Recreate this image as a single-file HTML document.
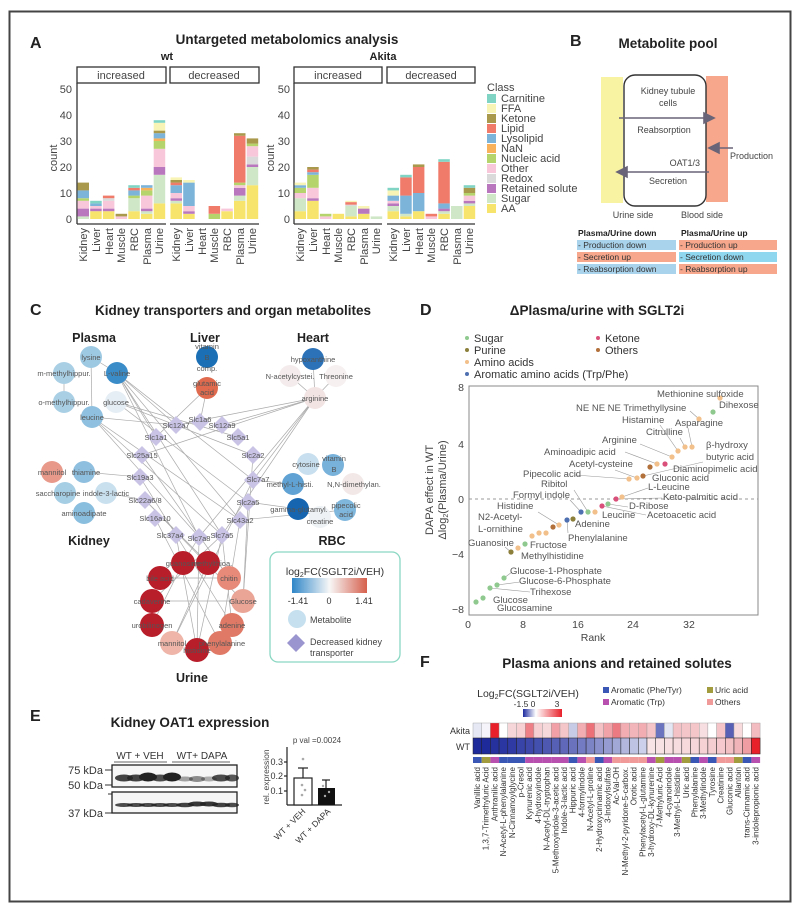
<!DOCTYPE html>
<html><head><meta charset="utf-8"><style>
html,body{margin:0;padding:0;background:#fff}
svg{display:block;font-family:"Liberation Sans",Arial,sans-serif}
.aa{fill:#f7e46c}.su{fill:#cfe7c6}.re{fill:#b977bd}.rd{fill:#dadada}.ot{fill:#f8c8da}.nu{fill:#b5d56c}.na{fill:#f8b25c}.ly{fill:#7bb3d9}.li{fill:#f07b6b}.ke{fill:#a9994d}.ff{fill:#f8f4b5}.ca{fill:#80d4c4}
.t{font-size:11px;fill:#444}
.b{font-weight:bold;fill:#222}
.n{font-size:7.5px;fill:#555;text-anchor:middle}
.d{font-size:9.5px;fill:#555}
.e{stroke:#aaa;stroke-width:0.7}
.h{font-size:8px;fill:#333}
</style></head><body>
<svg width="800" height="913" viewBox="0 0 800 913" xmlns="http://www.w3.org/2000/svg">
<rect x="9.5" y="11.5" width="781" height="890" fill="#fff" stroke="#444" stroke-width="2"/>

<!-- ================= A ================= -->
<text x="30" y="48" font-size="16" class="b">A</text>
<text x="287" y="44" font-size="13.5" class="b" text-anchor="middle">Untargeted metabolomics analysis</text>
<text x="167" y="60" font-size="11" class="b" text-anchor="middle">wt</text>
<text x="383" y="60" font-size="11" class="b" text-anchor="middle">Akita</text>
<g fill="#fff" stroke="#333" stroke-width="1.3">
<rect x="77" y="67" width="89" height="16"/><rect x="170" y="67" width="89" height="16"/>
<rect x="294" y="67" width="88" height="16"/><rect x="387" y="67" width="88" height="16"/>
</g>
<g class="t" font-size="11" text-anchor="middle">
<text x="121" y="79">increased</text><text x="214" y="79">decreased</text>
<text x="338" y="79">increased</text><text x="431" y="79">decreased</text>
</g>
<g stroke="#333" stroke-width="1.3">
<line x1="77" y1="83" x2="77" y2="224"/><line x1="77" y1="224" x2="166" y2="224"/><line x1="170" y1="224" x2="259" y2="224"/>
<line x1="294" y1="83" x2="294" y2="224"/><line x1="294" y1="224" x2="382" y2="224"/><line x1="387" y1="224" x2="475" y2="224"/>
</g>
<g class="t" font-size="11" text-anchor="end">
<text x="72" y="223">0</text><text x="72" y="197">10</text><text x="72" y="171">20</text><text x="72" y="145">30</text><text x="72" y="119">40</text><text x="72" y="93">50</text>
<text x="290" y="223">0</text><text x="290" y="197">10</text><text x="290" y="171">20</text><text x="290" y="145">30</text><text x="290" y="119">40</text><text x="290" y="93">50</text>
</g>
<text transform="translate(57,158) rotate(-90)" class="t" font-size="11" text-anchor="middle">count</text>
<text transform="translate(274,158) rotate(-90)" class="t" font-size="11" text-anchor="middle">count</text>

<!-- wt increased -->
<g transform="translate(77.5,219) scale(1,-2.6)"><rect class="su" width="11.5" y="0" height="1"/><rect class="re" width="11.5" y="1" height="3"/><rect class="ot" width="11.5" y="4" height="3"/><rect class="nu" width="11.5" y="7" height="1"/><rect class="ly" width="11.5" y="8" height="3"/><rect class="ke" width="11.5" y="11" height="3"/></g>
<g transform="translate(90.2,219) scale(1,-2.6)"><rect class="aa" width="11.5" height="3"/><rect class="re" width="11.5" y="3" height="1"/><rect class="ot" width="11.5" y="4" height="1"/><rect class="ly" width="11.5" y="5" height="1"/><rect class="ca" width="11.5" y="6" height="1"/></g>
<g transform="translate(102.9,219) scale(1,-2.6)"><rect class="aa" width="11.5" height="3"/><rect class="re" width="11.5" y="3" height="1"/><rect class="ot" width="11.5" y="4" height="3"/><rect class="rd" width="11.5" y="7" height="1"/><rect class="li" width="11.5" y="8" height="1"/></g>
<g transform="translate(115.6,219) scale(1,-2.6)"><rect class="ot" width="11.5" height="1"/><rect class="ke" width="11.5" y="1" height="1"/></g>
<g transform="translate(128.3,219) scale(1,-2.6)"><rect class="aa" width="11.5" height="3"/><rect class="su" width="11.5" y="3" height="5"/><rect class="nu" width="11.5" y="8" height="1"/><rect class="ly" width="11.5" y="9" height="2"/><rect class="li" width="11.5" y="11" height="1"/><rect class="ca" width="11.5" y="12" height="1"/></g>
<g transform="translate(141,219) scale(1,-2.6)"><rect class="aa" width="11.5" height="2"/><rect class="su" width="11.5" y="2" height="1"/><rect class="re" width="11.5" y="3" height="1"/><rect class="ot" width="11.5" y="4" height="5"/><rect class="nu" width="11.5" y="9" height="2"/><rect class="na" width="11.5" y="11" height="1"/><rect class="ly" width="11.5" y="12" height="1"/></g>
<g transform="translate(153.7,219) scale(1,-2.6)"><rect class="aa" width="11.5" height="6"/><rect class="su" width="11.5" y="6" height="11"/><rect class="re" width="11.5" y="17" height="3"/><rect class="ot" width="11.5" y="20" height="7"/><rect class="nu" width="11.5" y="27" height="3"/><rect class="na" width="11.5" y="30" height="1"/><rect class="ly" width="11.5" y="31" height="2"/><rect class="ke" width="11.5" y="33" height="1"/><rect class="ff" width="11.5" y="34" height="3"/><rect class="ca" width="11.5" y="37" height="1"/></g>
<!-- wt decreased -->
<g transform="translate(170.5,219) scale(1,-2.6)"><rect class="aa" width="11.5" height="6"/><rect class="su" width="11.5" y="6" height="1"/><rect class="re" width="11.5" y="7" height="1"/><rect class="ot" width="11.5" y="8" height="2"/><rect class="ly" width="11.5" y="10" height="3"/><rect class="li" width="11.5" y="13" height="1"/><rect class="ke" width="11.5" y="14" height="1"/><rect class="ff" width="11.5" y="15" height="1"/></g>
<g transform="translate(183.2,219) scale(1,-2.6)"><rect class="aa" width="11.5" height="2"/><rect class="re" width="11.5" y="2" height="1"/><rect class="ot" width="11.5" y="3" height="2"/><rect class="ly" width="11.5" y="5" height="9"/><rect class="ff" width="11.5" y="14" height="1"/></g>
<g transform="translate(208.6,219) scale(1,-2.6)"><rect class="nu" width="11.5" height="2"/><rect class="li" width="11.5" y="2" height="3"/></g>
<g transform="translate(221.3,219) scale(1,-2.6)"><rect class="aa" width="11.5" height="3"/><rect class="ot" width="11.5" y="3" height="1"/></g>
<g transform="translate(234,219) scale(1,-2.6)"><rect class="aa" width="11.5" height="7"/><rect class="su" width="11.5" y="7" height="2"/><rect class="re" width="11.5" y="9" height="3"/><rect class="ot" width="11.5" y="12" height="1"/><rect class="nu" width="11.5" y="13" height="1"/><rect class="li" width="11.5" y="14" height="18"/><rect class="ke" width="11.5" y="32" height="1"/></g>
<g transform="translate(246.7,219) scale(1,-2.6)"><rect class="aa" width="11.5" height="13"/><rect class="su" width="11.5" y="13" height="7"/><rect class="re" width="11.5" y="20" height="1"/><rect class="rd" width="11.5" y="21" height="3"/><rect class="ot" width="11.5" y="24" height="4"/><rect class="nu" width="11.5" y="28" height="1"/><rect class="ke" width="11.5" y="29" height="2"/></g>
<!-- Akita increased -->
<g transform="translate(294.5,219) scale(1,-2.6)"><rect class="aa" width="11.5" height="3"/><rect class="su" width="11.5" y="3" height="5"/><rect class="ot" width="11.5" y="8" height="2"/><rect class="nu" width="11.5" y="10" height="2"/><rect class="ly" width="11.5" y="12" height="1"/><rect class="ff" width="11.5" y="13" height="1"/></g>
<g transform="translate(307.2,219) scale(1,-2.6)"><rect class="aa" width="11.5" height="7"/><rect class="re" width="11.5" y="7" height="1"/><rect class="ot" width="11.5" y="8" height="4"/><rect class="nu" width="11.5" y="12" height="5"/><rect class="ly" width="11.5" y="17" height="1"/><rect class="li" width="11.5" y="18" height="1"/><rect class="ke" width="11.5" y="19" height="1"/></g>
<g transform="translate(319.9,219) scale(1,-2.6)"><rect class="ot" width="11.5" height="1"/><rect class="nu" width="11.5" y="1" height="1"/></g>
<g transform="translate(332.6,219) scale(1,-2.6)"><rect class="aa" width="11.5" height="2"/></g>
<g transform="translate(345.3,219) scale(1,-2.6)"><rect class="aa" width="11.5" height="1"/><rect class="su" width="11.5" y="1" height="4"/><rect class="rd" width="11.5" y="5" height="0.5"/><rect class="li" width="11.5" y="5.5" height="1"/><rect class="ff" width="11.5" y="6.5" height="0.5"/></g>
<g transform="translate(358,219) scale(1,-2.6)"><rect class="aa" width="11.5" height="2"/><rect class="re" width="11.5" y="2" height="2"/><rect class="ff" width="11.5" y="4" height="1"/></g>
<g transform="translate(370.7,219) scale(1,-2.6)"><rect class="su" width="11.5" height="1"/></g>
<!-- Akita decreased -->
<g transform="translate(387.5,219) scale(1,-2.6)"><rect class="aa" width="11.5" height="3"/><rect class="su" width="11.5" y="3" height="2"/><rect class="re" width="11.5" y="5" height="1"/><rect class="ot" width="11.5" y="6" height="1"/><rect class="ly" width="11.5" y="7" height="2"/><rect class="ff" width="11.5" y="9" height="2"/><rect class="ca" width="11.5" y="11" height="1"/></g>
<g transform="translate(400.2,219) scale(1,-2.6)"><rect class="aa" width="11.5" height="1"/><rect class="su" width="11.5" y="1" height="1"/><rect class="ly" width="11.5" y="2" height="7"/><rect class="li" width="11.5" y="9" height="7"/><rect class="ca" width="11.5" y="16" height="1"/></g>
<g transform="translate(412.9,219) scale(1,-2.6)"><rect class="aa" width="11.5" height="3"/><rect class="ly" width="11.5" y="3" height="7"/><rect class="li" width="11.5" y="10" height="10"/><rect class="ke" width="11.5" y="20" height="1"/></g>
<g transform="translate(425.6,219) scale(1,-2.6)"><rect class="ot" width="11.5" height="1"/><rect class="li" width="11.5" y="1" height="1"/></g>
<g transform="translate(438.3,219) scale(1,-2.6)"><rect class="aa" width="11.5" height="2"/><rect class="su" width="11.5" y="2" height="1"/><rect class="re" width="11.5" y="3" height="1"/><rect class="ly" width="11.5" y="4" height="2"/><rect class="li" width="11.5" y="6" height="16"/><rect class="ca" width="11.5" y="22" height="1"/></g>
<g transform="translate(451,219) scale(1,-2.6)"><rect class="su" width="11.5" height="5"/></g>
<g transform="translate(463.7,219) scale(1,-2.6)"><rect class="aa" width="11.5" height="5"/><rect class="su" width="11.5" y="5" height="1"/><rect class="re" width="11.5" y="6" height="1"/><rect class="ot" width="11.5" y="7" height="2"/><rect class="nu" width="11.5" y="9" height="1"/><rect class="ke" width="11.5" y="10" height="2"/><rect class="ca" width="11.5" y="12" height="1"/></g>

<g class="t" font-size="11" text-anchor="end">
<text transform="translate(87,228) rotate(-90)">Kidney</text><text transform="translate(100,228) rotate(-90)">Liver</text><text transform="translate(113,228) rotate(-90)">Heart</text><text transform="translate(125,228) rotate(-90)">Muscle</text><text transform="translate(138,228) rotate(-90)">RBC</text><text transform="translate(151,228) rotate(-90)">Plasma</text><text transform="translate(163,228) rotate(-90)">Urine</text>
<text transform="translate(180,228) rotate(-90)">Kidney</text><text transform="translate(193,228) rotate(-90)">Liver</text><text transform="translate(206,228) rotate(-90)">Heart</text><text transform="translate(218,228) rotate(-90)">Muscle</text><text transform="translate(231,228) rotate(-90)">RBC</text><text transform="translate(244,228) rotate(-90)">Plasma</text><text transform="translate(256,228) rotate(-90)">Urine</text>
<text transform="translate(304,228) rotate(-90)">Kidney</text><text transform="translate(317,228) rotate(-90)">Liver</text><text transform="translate(330,228) rotate(-90)">Heart</text><text transform="translate(342,228) rotate(-90)">Muscle</text><text transform="translate(355,228) rotate(-90)">RBC</text><text transform="translate(368,228) rotate(-90)">Plasma</text><text transform="translate(380,228) rotate(-90)">Urine</text>
<text transform="translate(397,228) rotate(-90)">Kidney</text><text transform="translate(410,228) rotate(-90)">Liver</text><text transform="translate(423,228) rotate(-90)">Heart</text><text transform="translate(435,228) rotate(-90)">Muscle</text><text transform="translate(448,228) rotate(-90)">RBC</text><text transform="translate(461,228) rotate(-90)">Plasma</text><text transform="translate(473,228) rotate(-90)">Urine</text>
</g>
<!-- legend A -->
<text x="487" y="91" class="t" font-size="10.5">Class</text>
<g>
<rect class="ca" x="487" y="94" width="9" height="9"/><rect class="ff" x="487" y="104" width="9" height="9"/><rect class="ke" x="487" y="114" width="9" height="9"/><rect class="li" x="487" y="124" width="9" height="9"/><rect class="ly" x="487" y="134" width="9" height="9"/><rect class="na" x="487" y="144" width="9" height="9"/><rect class="nu" x="487" y="154" width="9" height="9"/><rect class="ot" x="487" y="164" width="9" height="9"/><rect class="rd" x="487" y="174" width="9" height="9"/><rect class="re" x="487" y="184" width="9" height="9"/><rect class="su" x="487" y="194" width="9" height="9"/><rect class="aa" x="487" y="204" width="9" height="9"/>
</g>
<g class="t" font-size="10.5">
<text x="501" y="102">Carnitine</text><text x="501" y="112">FFA</text><text x="501" y="122">Ketone</text><text x="501" y="132">Lipid</text><text x="501" y="142">Lysolipid</text><text x="501" y="152">NaN</text><text x="501" y="162">Nucleic acid</text><text x="501" y="172">Other</text><text x="501" y="182">Redox</text><text x="501" y="192">Retained solute</text><text x="501" y="202">Sugar</text><text x="501" y="212">AA</text>
</g>

<!-- ================= B ================= -->
<text x="570" y="46" font-size="16" class="b">B</text>
<text x="668" y="48" font-size="13.5" class="b" text-anchor="middle">Metabolite pool</text>
<rect x="601" y="77" width="22" height="126" fill="#f7f3a3"/>
<rect x="706" y="76" width="22" height="126" fill="#f6a78c"/>
<rect x="624" y="75" width="82" height="131" rx="11" fill="none" stroke="#333" stroke-width="1.4"/>
<g font-size="9" fill="#444" text-anchor="middle">
<text x="668" y="94">Kidney tubule</text><text x="668" y="106">cells</text>
<text x="664" y="133">Reabsorption</text><text x="668" y="184">Secretion</text>
<text x="633" y="218">Urine side</text><text x="702" y="218">Blood side</text>
</g>
<text x="700" y="166" font-size="9" fill="#444" text-anchor="end">OAT1/3</text>
<text x="730" y="159" font-size="9" fill="#444">Production</text>
<g stroke="#6a6478" stroke-width="1.6" fill="#6a6478">
<line x1="619" y1="118" x2="707" y2="118"/><polygon points="714,118 704,113 704,123"/>
<line x1="733" y1="148" x2="716" y2="148"/><polygon points="709,148 719,143 719,153"/>
<line x1="709" y1="172" x2="624" y2="172"/><polygon points="617,172 627,167 627,177"/>
</g>
<g font-size="8.5" fill="#222" font-weight="bold"><text x="578" y="236">Plasma/Urine down</text><text x="681" y="236">Plasma/Urine up</text></g>
<rect x="577" y="240" width="99" height="10" fill="#a9d3ec"/><rect x="577" y="252" width="99" height="10" fill="#f6a78c"/><rect x="577" y="264" width="99" height="10" fill="#a9d3ec"/>
<rect x="679" y="240" width="98" height="10" fill="#f6a78c"/><rect x="679" y="252" width="98" height="10" fill="#8fd6ef"/><rect x="679" y="264" width="98" height="10" fill="#f6a78c"/>
<g font-size="8.5" fill="#333"><text x="578" y="248">- Production down</text><text x="578" y="260">- Secretion up</text><text x="578" y="272">- Reabsorption down</text><text x="680" y="248">- Production up</text><text x="680" y="260">- Secretion down</text><text x="680" y="272">- Reabsorption up</text></g>

<!-- ================= C ================= -->
<text x="30" y="315" font-size="16" class="b">C</text>
<text x="233" y="315" font-size="13.5" class="b" text-anchor="middle">Kidney transporters and organ metabolites</text>
<g font-size="12.5" class="b" text-anchor="middle">
<text x="94" y="342">Plasma</text><text x="205" y="342">Liver</text><text x="313" y="342">Heart</text>
<text x="89" y="545">Kidney</text><text x="332" y="545">RBC</text><text x="192" y="682">Urine</text>
</g>
<g class="e">
<line x1="91" y1="357" x2="92" y2="417"/><line x1="64" y1="373" x2="64" y2="402"/><line x1="117" y1="373" x2="156" y2="437"/><line x1="117" y1="373" x2="176" y2="425"/><line x1="117" y1="373" x2="222" y2="535"/><line x1="117" y1="373" x2="199" y2="537"/><line x1="117" y1="373" x2="240" y2="520"/><line x1="117" y1="373" x2="253" y2="480"/><line x1="91" y1="357" x2="117" y2="373"/>
<line x1="92" y1="417" x2="222" y2="535"/><line x1="92" y1="417" x2="199" y2="537"/><line x1="92" y1="417" x2="240" y2="520"/><line x1="92" y1="417" x2="176" y2="425"/>
<line x1="116" y1="402" x2="238" y2="437"/><line x1="116" y1="402" x2="253" y2="455"/><line x1="116" y1="402" x2="248" y2="502"/>
<line x1="207" y1="388" x2="200" y2="422"/><line x1="207" y1="388" x2="156" y2="437"/>
<line x1="315" y1="398" x2="253" y2="480"/><line x1="315" y1="398" x2="199" y2="537"/><line x1="315" y1="398" x2="142" y2="455"/><line x1="315" y1="398" x2="222" y2="425"/><line x1="315" y1="398" x2="176" y2="425"/><line x1="315" y1="398" x2="222" y2="535"/><line x1="313" y1="359" x2="315" y2="398"/><line x1="290" y1="376" x2="315" y2="398"/><line x1="336" y1="376" x2="315" y2="398"/>
<line x1="84" y1="472" x2="140" y2="477"/><line x1="106" y1="493" x2="145" y2="500"/>
<line x1="293" y1="484" x2="253" y2="480"/><line x1="298" y1="509" x2="248" y2="502"/><line x1="345" y1="510" x2="240" y2="520"/>
<line x1="145" y1="500" x2="208" y2="563"/><line x1="145" y1="500" x2="243" y2="601"/><line x1="142" y1="455" x2="229" y2="578"/><line x1="140" y1="477" x2="232" y2="625"/><line x1="155" y1="518" x2="220" y2="643"/><line x1="176" y1="535" x2="197" y2="650"/><line x1="199" y1="537" x2="197" y2="650"/><line x1="222" y1="535" x2="197" y2="650"/><line x1="222" y1="535" x2="152" y2="601"/><line x1="253" y1="455" x2="243" y2="601"/><line x1="248" y1="502" x2="243" y2="601"/><line x1="240" y1="520" x2="220" y2="643"/><line x1="253" y1="480" x2="172" y2="643"/><line x1="199" y1="537" x2="183" y2="563"/><line x1="222" y1="535" x2="232" y2="625"/>
<line x1="183" y1="563" x2="152" y2="625"/><line x1="208" y1="563" x2="172" y2="643"/><line x1="160" y1="578" x2="229" y2="578"/><line x1="152" y1="601" x2="243" y2="601"/>
</g>
<g>
<circle cx="91" cy="357" r="11" fill="#9ec9e2"/><circle cx="64" cy="373" r="11" fill="#a9cfe5"/><circle cx="117" cy="373" r="11" fill="#3a8cc8"/><circle cx="64" cy="402" r="11" fill="#a9cfe5"/><circle cx="116" cy="402" r="11" fill="#e6eef5"/><circle cx="92" cy="417" r="11" fill="#8fc0df"/>
<circle cx="207" cy="357" r="11" fill="#1a6fb5"/><circle cx="207" cy="388" r="11" fill="#e06a4d"/>
<circle cx="313" cy="359" r="11" fill="#2b72b8"/><circle cx="290" cy="376" r="11" fill="#f4ecec"/><circle cx="336" cy="376" r="11" fill="#f7f0f0"/><circle cx="315" cy="398" r="11" fill="#f3e4e4"/>
<circle cx="52" cy="472" r="11" fill="#e8998a"/><circle cx="84" cy="472" r="11" fill="#8fbfdf"/><circle cx="65" cy="493" r="11" fill="#a5cde4"/><circle cx="106" cy="493" r="11" fill="#c9e0ef"/><circle cx="84" cy="513" r="11" fill="#8abedf"/>
<circle cx="308" cy="464" r="11" fill="#c7dfee"/><circle cx="333" cy="465" r="11" fill="#78b1da"/><circle cx="293" cy="484" r="11" fill="#5fa2d3"/><circle cx="353" cy="484" r="11" fill="#f3e8e8"/><circle cx="320" cy="517" r="11" fill="#eef2f5"/><circle cx="345" cy="510" r="11" fill="#7fb6dc"/><circle cx="298" cy="509" r="11" fill="#1565b0"/>
<circle cx="183" cy="563" r="12" fill="#b81d2a"/><circle cx="208" cy="563" r="12" fill="#b81d2a"/><circle cx="160" cy="578" r="12" fill="#b81d2a"/><circle cx="229" cy="578" r="12" fill="#e78a7a"/><circle cx="152" cy="601" r="12" fill="#b81d2a"/><circle cx="243" cy="601" r="12" fill="#eba597"/><circle cx="152" cy="625" r="12" fill="#b81d2a"/><circle cx="232" cy="625" r="12" fill="#e07a66"/><circle cx="172" cy="643" r="12" fill="#eeb5a8"/><circle cx="220" cy="643" r="12" fill="#e07a66"/><circle cx="197" cy="650" r="12" fill="#b81d2a"/>
</g>
<g fill="#c9c4e6">
<polygon points="176,416 185,425 176,434 167,425"/><polygon points="200,413 209,422 200,431 191,422"/><polygon points="222,416 231,425 222,434 213,425"/><polygon points="156,428 165,437 156,446 147,437"/><polygon points="238,428 247,437 238,446 229,437"/><polygon points="142,446 151,455 142,464 133,455"/><polygon points="253,446 262,455 253,464 244,455"/><polygon points="140,468 149,477 140,486 131,477"/><polygon points="253,471 262,480 253,489 244,480"/><polygon points="145,491 154,500 145,509 136,500"/><polygon points="248,493 257,502 248,511 239,502"/><polygon points="155,509 164,518 155,527 146,518"/><polygon points="240,511 249,520 240,529 231,520"/><polygon points="176,526 185,535 176,544 167,535"/><polygon points="199,528 208,537 199,546 190,537"/><polygon points="222,526 231,535 222,544 213,535"/>
</g>
<g class="n">
<text x="91" y="360">lysine</text><text x="64" y="376">m-methylhippur.</text><text x="117" y="376">L-valine</text><text x="64" y="405">o-methylhippur.</text><text x="116" y="405">glucose</text><text x="92" y="420">leucine</text>
<text x="207" y="349">vitamin</text><text x="207" y="360">B</text><text x="207" y="371">comp.</text><text x="207" y="386">glutamic</text><text x="207" y="395">acid</text>
<text x="313" y="362">hypoxanthine</text><text x="290" y="379">N-acetylcystei.</text><text x="336" y="379">Threonine</text><text x="315" y="401">arginine</text>
<text x="176" y="428">Slc12a7</text><text x="200" y="422">Slc1a6</text><text x="222" y="428">Slc12a9</text><text x="156" y="440">Slc1a1</text><text x="238" y="440">Slc5a1</text><text x="142" y="458">Slc25a15</text><text x="253" y="458">Slc2a2</text><text x="140" y="480">Slc19a3</text><text x="258" y="482">Slc7a7</text><text x="145" y="503">Slc22a6/8</text><text x="248" y="505">Slc2a5</text><text x="155" y="521">Slc16a10</text><text x="240" y="523">Slc43a2</text><text x="170" y="538">Slc37a4</text><text x="199" y="541">Slc7a8</text><text x="222" y="538">Slc7a5</text>
<text x="52" y="475">mannitol</text><text x="86" y="475">thiamine</text><text x="58" y="496">saccharopine</text><text x="106" y="496">indole-3-lactic</text><text x="84" y="516">aminoadipate</text>
<text x="306" y="467">cytosine</text><text x="334" y="461">vitamin</text><text x="334" y="472">B</text><text x="290" y="487">methyl-L-histi.</text><text x="354" y="487">N,N-dimethylan.</text><text x="299" y="512">gamma-glutamyl.</text><text x="320" y="524">creatine</text><text x="346" y="508">pipecolic</text><text x="346" y="517">acid</text>
<text x="183" y="566">guanosine</text><text x="212" y="566">methylthioa.</text><text x="160" y="581">bile acid</text><text x="229" y="581">chitin</text><text x="152" y="604">cadaverine</text><text x="243" y="604">Glucose</text><text x="152" y="628">urobilinogen</text><text x="232" y="628">adenine</text><text x="172" y="646">mannitol</text><text x="222" y="646">phenylalanine</text><text x="197" y="653">histidine</text>
</g>
<rect x="270" y="552" width="130" height="110" rx="8" fill="#fff" stroke="#8ad7c2" stroke-width="1.3"/>
<defs>
<linearGradient id="gc" x1="0" x2="1"><stop offset="0" stop-color="#2f86c8"/><stop offset="0.5" stop-color="#f7f7f7"/><stop offset="1" stop-color="#d6604d"/></linearGradient>
<linearGradient id="gf" x1="0" x2="1"><stop offset="0" stop-color="#1d2a9e"/><stop offset="0.33" stop-color="#ffffff"/><stop offset="1" stop-color="#e8202a"/></linearGradient>
</defs>
<text x="335" y="575" font-size="10.5" fill="#333" text-anchor="middle">log<tspan font-size="7" dy="2">2</tspan><tspan dy="-2">FC(SGLT2i/VEH)</tspan></text>
<rect x="292" y="578" width="75" height="15" fill="url(#gc)"/>
<g font-size="9" fill="#333" text-anchor="middle"><text x="298" y="604">-1.41</text><text x="329" y="604">0</text><text x="364" y="604">1.41</text></g>
<circle cx="297" cy="619" r="9" fill="#c6e0ef"/><text x="310" y="623" font-size="9" fill="#444">Metabolite</text>
<polygon points="296,634 305,643 296,652 287,643" fill="#9a94cf"/><text x="310" y="645" font-size="9" fill="#444">Decreased kidney</text><text x="310" y="656" font-size="9" fill="#444">transporter</text>

<!-- ================= D ================= -->
<text x="420" y="315" font-size="16" class="b">D</text>
<text x="597" y="315" font-size="13.5" class="b" text-anchor="middle">ΔPlasma/urine with SGLT2i</text>
<g font-size="11" fill="#333">
<circle cx="467" cy="338" r="2" fill="#8fc98f"/><text x="474" y="342">Sugar</text>
<circle cx="467" cy="350" r="2" fill="#8c7f3c"/><text x="474" y="354">Purine</text>
<circle cx="467" cy="362" r="2" fill="#f2c08a"/><text x="474" y="366">Amino acids</text>
<circle cx="467" cy="374" r="2" fill="#4e6fb0"/><text x="474" y="378">Aromatic amino acids (Trp/Phe)</text>
<circle cx="598" cy="338" r="2" fill="#d9507a"/><text x="605" y="342">Ketone</text>
<circle cx="598" cy="350" r="2" fill="#b2703a"/><text x="605" y="354">Others</text>
</g>
<rect x="469" y="386" width="289" height="229" fill="none" stroke="#888" stroke-width="1"/>
<line x1="469" y1="499" x2="758" y2="499" stroke="#999" stroke-dasharray="3,3"/>
<g font-size="10.5" fill="#444" text-anchor="end"><text x="464" y="391">8</text><text x="464" y="448">4</text><text x="464" y="503">0</text><text x="464" y="558">−4</text><text x="464" y="613">−8</text></g>
<g font-size="10.5" fill="#444" text-anchor="middle"><text x="468" y="628">0</text><text x="523" y="628">8</text><text x="578" y="628">16</text><text x="633" y="628">24</text><text x="689" y="628">32</text><text x="593" y="641">Rank</text></g>
<text transform="translate(433,490) rotate(-90)" font-size="11" fill="#444" text-anchor="middle">DAPA effect in WT</text>
<text transform="translate(446,490) rotate(-90)" font-size="11" fill="#444" text-anchor="middle">Δlog<tspan font-size="7" dy="2">2</tspan><tspan dy="-2">(Plasma/Urine)</tspan></text>
<g stroke="#999" stroke-width="0.6">
<line x1="699" y1="419" x2="690" y2="411"/><line x1="692" y1="447" x2="688" y2="428"/><line x1="685" y1="447" x2="680" y2="438"/><line x1="678" y1="451" x2="660" y2="425"/><line x1="672" y1="457" x2="640" y2="444"/><line x1="657" y1="464" x2="625" y2="452"/><line x1="643" y1="476" x2="703" y2="462"/><line x1="637" y1="478" x2="615" y2="470"/><line x1="629" y1="479" x2="575" y2="475"/><line x1="622" y1="497" x2="648" y2="488"/><line x1="616" y1="499" x2="662" y2="498"/><line x1="608" y1="504" x2="628" y2="507"/><line x1="602" y1="506" x2="646" y2="515"/><line x1="588" y1="512" x2="574" y2="490"/><line x1="581" y1="512" x2="570" y2="500"/><line x1="567" y1="520" x2="568" y2="533"/><line x1="559" y1="525" x2="538" y2="512"/><line x1="511" y1="552" x2="505" y2="547"/><line x1="504" y1="578" x2="512" y2="572"/><line x1="497" y1="585" x2="520" y2="582"/><line x1="490" y1="588" x2="530" y2="592"/>
</g>
<g>
<circle cx="720" cy="398" r="2.6" fill="#f2c08a"/><circle cx="713" cy="412" r="2.6" fill="#8fc98f"/><circle cx="699" cy="419" r="2.6" fill="#f2c08a"/><circle cx="692" cy="447" r="2.6" fill="#f2c08a"/><circle cx="685" cy="447" r="2.6" fill="#f2c08a"/><circle cx="678" cy="451" r="2.6" fill="#f2c08a"/><circle cx="672" cy="457" r="2.6" fill="#f2c08a"/><circle cx="665" cy="464" r="2.6" fill="#d9507a"/><circle cx="657" cy="464" r="2.6" fill="#f2c08a"/><circle cx="650" cy="467" r="2.6" fill="#b2703a"/><circle cx="643" cy="476" r="2.6" fill="#b2703a"/><circle cx="637" cy="478" r="2.6" fill="#f2c08a"/><circle cx="629" cy="479" r="2.6" fill="#f2c08a"/><circle cx="622" cy="497" r="2.6" fill="#f2c08a"/><circle cx="616" cy="499" r="2.6" fill="#d9507a"/><circle cx="608" cy="504" r="2.6" fill="#8fc98f"/><circle cx="602" cy="506" r="2.6" fill="#d9507a"/><circle cx="595" cy="512" r="2.6" fill="#f2c08a"/><circle cx="588" cy="512" r="2.6" fill="#8fc98f"/><circle cx="581" cy="512" r="2.6" fill="#4e6fb0"/><circle cx="573" cy="519" r="2.6" fill="#8c7f3c"/><circle cx="567" cy="520" r="2.6" fill="#4e6fb0"/><circle cx="559" cy="525" r="2.6" fill="#f2c08a"/><circle cx="553" cy="527" r="2.6" fill="#b2703a"/><circle cx="546" cy="533" r="2.6" fill="#f2c08a"/><circle cx="539" cy="533" r="2.6" fill="#f2c08a"/><circle cx="532" cy="536" r="2.6" fill="#f2c08a"/><circle cx="525" cy="544" r="2.6" fill="#8fc98f"/><circle cx="518" cy="548" r="2.6" fill="#f2c08a"/><circle cx="511" cy="552" r="2.6" fill="#8c7f3c"/><circle cx="504" cy="578" r="2.6" fill="#8fc98f"/><circle cx="497" cy="585" r="2.6" fill="#8fc98f"/><circle cx="490" cy="588" r="2.6" fill="#8fc98f"/><circle cx="483" cy="598" r="2.6" fill="#8fc98f"/><circle cx="476" cy="602" r="2.6" fill="#8fc98f"/>
</g>
<g class="d">
<text x="657" y="397">Methionine sulfoxide</text><text x="719" y="408">Dihexose</text><text x="576" y="411">NE NE NE Trimethyllysine</text><text x="622" y="423">Histamine</text><text x="675" y="426">Asparagine</text><text x="646" y="435">Citrulline</text><text x="602" y="443">Arginine</text><text x="706" y="448">β-hydroxy</text><text x="544" y="455">Aminoadipic acid</text><text x="706" y="460">butyric acid</text><text x="569" y="467">Acetyl-cysteine</text><text x="673" y="472">Diaminopimelic acid</text><text x="523" y="477">Pipecolic acid</text><text x="652" y="481">Gluconic acid</text><text x="541" y="487">Ribitol</text><text x="648" y="490">L-Leucine</text><text x="513" y="498">Formyl indole</text><text x="663" y="500">Keto-palmitic acid</text><text x="497" y="509">Histidine</text><text x="629" y="509">D-Ribose</text><text x="602" y="518">Leucine</text><text x="647" y="518">Acetoacetic acid</text><text x="478" y="520">N2-Acetyl-</text><text x="478" y="532">L-ornithine</text><text x="575" y="527">Adenine</text><text x="568" y="541">Phenylalanine</text><text x="468" y="546">Guanosine</text><text x="530" y="548">Fructose</text><text x="521" y="559">Methylhistidine</text><text x="510" y="574">Glucose-1-Phosphate</text><text x="519" y="584">Glucose-6-Phosphate</text><text x="530" y="595">Trihexose</text><text x="493" y="603">Glucose</text><text x="497" y="611">Glucosamine</text>
</g>

<!-- ================= E ================= -->
<text x="30" y="721" font-size="16" class="b">E</text>
<text x="190" y="727" font-size="13.5" class="b" text-anchor="middle">Kidney OAT1 expression</text>
<g font-size="10" fill="#333" text-anchor="middle"><text x="140" y="759">WT + VEH</text><text x="202" y="759">WT+ DAPA</text></g>
<line x1="114" y1="762" x2="167" y2="762" stroke="#666"/><line x1="172" y1="762" x2="230" y2="762" stroke="#666"/>
<g font-size="11" fill="#333" text-anchor="end"><text x="103" y="774">75 kDa</text><text x="103" y="789">50 kDa</text><text x="103" y="817">37 kDa</text></g>
<g stroke="#333"><line x1="105" y1="770" x2="112" y2="770"/><line x1="105" y1="785" x2="112" y2="785"/><line x1="105" y1="813" x2="112" y2="813"/><line x1="108" y1="794" x2="112" y2="794"/></g>
<rect x="112" y="765" width="125" height="22" fill="#f6f6f6" stroke="#222" stroke-width="1.3"/>
<rect x="112" y="792" width="125" height="21" fill="#f6f6f6" stroke="#222" stroke-width="1.3"/>
<g fill="#222">
<ellipse cx="124" cy="778" rx="9" ry="3.5" opacity="0.85"/><ellipse cx="136" cy="778" rx="9" ry="3.5" opacity="0.85"/><ellipse cx="148" cy="777" rx="9" ry="4.5"/><ellipse cx="160" cy="778" rx="9" ry="3.5" opacity="0.8"/><ellipse cx="172" cy="777" rx="9" ry="4.5"/>
<ellipse cx="185" cy="779" rx="8" ry="2.5" opacity="0.4"/><ellipse cx="197" cy="779" rx="8" ry="3" opacity="0.5"/><ellipse cx="209" cy="779" rx="8" ry="2.5" opacity="0.35"/><ellipse cx="221" cy="778" rx="9" ry="3.5" opacity="0.8"/><ellipse cx="232" cy="778" rx="7" ry="3.5" opacity="0.75"/>
<ellipse cx="124" cy="805" rx="9" ry="2" opacity="0.8"/><ellipse cx="136" cy="805" rx="9" ry="2" opacity="0.8"/><ellipse cx="148" cy="805" rx="9" ry="2" opacity="0.8"/><ellipse cx="160" cy="805" rx="9" ry="2" opacity="0.8"/><ellipse cx="172" cy="805" rx="9" ry="2" opacity="0.8"/><ellipse cx="185" cy="805" rx="9" ry="2.3" opacity="0.85"/><ellipse cx="197" cy="804" rx="9" ry="2.5" opacity="0.9"/><ellipse cx="209" cy="804" rx="9" ry="2.5" opacity="0.9"/><ellipse cx="221" cy="805" rx="9" ry="2.3" opacity="0.85"/><ellipse cx="232" cy="805" rx="7" ry="2.3" opacity="0.8"/>
</g>
<text x="317" y="743" font-size="8" fill="#444" text-anchor="middle">p val =0.0024</text>
<g stroke="#222" stroke-width="1.2" fill="none"><line x1="287" y1="747" x2="287" y2="805"/><line x1="287" y1="805" x2="342" y2="805"/><line x1="284" y1="762" x2="287" y2="762"/><line x1="284" y1="776" x2="287" y2="776"/><line x1="284" y1="791" x2="287" y2="791"/></g>
<g font-size="9" fill="#333" text-anchor="end"><text x="283" y="765">0.3</text><text x="283" y="779">0.2</text><text x="283" y="794">0.1</text></g>
<text transform="translate(269,777) rotate(-90)" font-size="8.5" fill="#444" text-anchor="middle">rel. expression</text>
<rect x="294" y="778" width="18" height="27" fill="#fff" stroke="#222" stroke-width="1.2"/>
<rect x="318" y="788" width="17" height="17" fill="#111"/>
<g stroke="#222" stroke-width="1.2"><line x1="303" y1="778" x2="303" y2="768"/><line x1="298" y1="768" x2="308" y2="768"/><line x1="326" y1="788" x2="326" y2="780"/><line x1="322" y1="780" x2="330" y2="780"/></g>
<g fill="#aaa"><circle cx="303" cy="759" r="1.3"/><circle cx="302" cy="785" r="1.3"/><circle cx="305" cy="790" r="1.3"/><circle cx="302" cy="795" r="1.3"/><circle cx="323" cy="786" r="1.2"/><circle cx="329" cy="792" r="1.2"/><circle cx="325" cy="796" r="1.2"/></g>
<g font-size="8.5" fill="#333" text-anchor="end"><text transform="translate(306,812) rotate(-45)">WT + VEH</text><text transform="translate(331,812) rotate(-45)">WT + DAPA</text></g>

<!-- ================= F ================= -->
<text x="420" y="667" font-size="16" class="b">F</text>
<text x="617" y="668" font-size="13.5" class="b" text-anchor="middle">Plasma anions and retained solutes</text>
<text x="528" y="697" font-size="10.5" fill="#333" text-anchor="middle">Log<tspan font-size="7" dy="2">2</tspan><tspan dy="-2">FC(SGLT2i/VEH)</tspan></text>
<g font-size="8.5" fill="#333" text-anchor="middle"><text x="521" y="707">-1.5</text><text x="533" y="707">0</text><text x="557" y="707">3</text></g>
<rect x="523" y="709" width="39" height="8" fill="url(#gf)"/>
<rect x="603" y="687" width="6" height="6" fill="#3a57b5"/><text x="611" y="693" font-size="8.5" fill="#333">Aromatic (Phe/Tyr)</text>
<rect x="603" y="699" width="6" height="6" fill="#b850b0"/><text x="611" y="705" font-size="8.5" fill="#333">Aromatic (Trp)</text>
<rect x="707" y="687" width="6" height="6" fill="#a29c3e"/><text x="715" y="693" font-size="8.5" fill="#333">Uric acid</text>
<rect x="707" y="699" width="6" height="6" fill="#f09a9a"/><text x="715" y="705" font-size="8.5" fill="#333">Others</text>
<text x="470" y="734" font-size="9" fill="#333" text-anchor="end">Akita</text>
<text x="470" y="750" font-size="9" fill="#333" text-anchor="end">WT</text>
<g stroke="#999" stroke-width="0.4">
<rect x="473" y="723" width="8.7" height="15" fill="#e6e8f4"/><rect x="481.7" y="723" width="8.7" height="15" fill="#f4f4fa"/><rect x="490.4" y="723" width="8.7" height="15" fill="#e8202a"/><rect x="499.1" y="723" width="8.7" height="15" fill="#ffffff"/><rect x="507.8" y="723" width="8.7" height="15" fill="#f6d6d8"/><rect x="516.5" y="723" width="8.7" height="15" fill="#f6d0d2"/><rect x="525.2" y="723" width="8.7" height="15" fill="#ee7f86"/><rect x="533.9" y="723" width="8.7" height="15" fill="#f5cfd2"/><rect x="542.6" y="723" width="8.7" height="15" fill="#f6d9db"/><rect x="551.3" y="723" width="8.7" height="15" fill="#f0a0a6"/><rect x="560" y="723" width="8.7" height="15" fill="#f4c6ca"/><rect x="568.7" y="723" width="8.7" height="15" fill="#c8cbe6"/><rect x="577.4" y="723" width="8.7" height="15" fill="#f1adb2"/><rect x="586.1" y="723" width="8.7" height="15" fill="#ec7078"/><rect x="594.8" y="723" width="8.7" height="15" fill="#f4c0c4"/><rect x="603.5" y="723" width="8.7" height="15" fill="#f0a2a8"/><rect x="612.2" y="723" width="8.7" height="15" fill="#ec7a82"/><rect x="620.9" y="723" width="8.7" height="15" fill="#f1adb2"/><rect x="629.6" y="723" width="8.7" height="15" fill="#f2b5b9"/><rect x="638.3" y="723" width="8.7" height="15" fill="#f1adb2"/><rect x="647" y="723" width="8.7" height="15" fill="#f4c4c8"/><rect x="655.7" y="723" width="8.7" height="15" fill="#6b74bf"/><rect x="664.4" y="723" width="8.7" height="15" fill="#e4e6f3"/><rect x="673.1" y="723" width="8.7" height="15" fill="#f3c2c6"/><rect x="681.8" y="723" width="8.7" height="15" fill="#f4c6ca"/><rect x="690.5" y="723" width="8.7" height="15" fill="#f4c6ca"/><rect x="699.2" y="723" width="8.7" height="15" fill="#f7dfe1"/><rect x="707.9" y="723" width="8.7" height="15" fill="#ffffff"/><rect x="716.6" y="723" width="8.7" height="15" fill="#f4c4c8"/><rect x="725.3" y="723" width="8.7" height="15" fill="#5860b6"/><rect x="734" y="723" width="8.7" height="15" fill="#f7dbdd"/><rect x="742.7" y="723" width="8.7" height="15" fill="#ffffff"/><rect x="751.4" y="723" width="8.7" height="15" fill="#f3bcc0"/>
</g>
<g stroke="#222" stroke-width="0.5">
<rect x="473" y="738" width="8.7" height="16" fill="#1f2a9a"/><rect x="481.7" y="738" width="8.7" height="16" fill="#1f2a9a"/><rect x="490.4" y="738" width="8.7" height="16" fill="#26319e"/><rect x="499.1" y="738" width="8.7" height="16" fill="#2a36a2"/><rect x="507.8" y="738" width="8.7" height="16" fill="#2f3aa4"/><rect x="516.5" y="738" width="8.7" height="16" fill="#3944a8"/><rect x="525.2" y="738" width="8.7" height="16" fill="#3d48aa"/><rect x="533.9" y="738" width="8.7" height="16" fill="#4450ad"/><rect x="542.6" y="738" width="8.7" height="16" fill="#4e58b1"/><rect x="551.3" y="738" width="8.7" height="16" fill="#5660b5"/><rect x="560" y="738" width="8.7" height="16" fill="#6068b9"/><rect x="568.7" y="738" width="8.7" height="16" fill="#6a72bd"/><rect x="577.4" y="738" width="8.7" height="16" fill="#737bc2"/><rect x="586.1" y="738" width="8.7" height="16" fill="#7d84c6"/><rect x="594.8" y="738" width="8.7" height="16" fill="#8a90cb"/><rect x="603.5" y="738" width="8.7" height="16" fill="#969cd1"/><rect x="612.2" y="738" width="8.7" height="16" fill="#a2a8d6"/><rect x="620.9" y="738" width="8.7" height="16" fill="#b2b6dd"/><rect x="629.6" y="738" width="8.7" height="16" fill="#bec2e3"/><rect x="638.3" y="738" width="8.7" height="16" fill="#cdd0ea"/><rect x="647" y="738" width="8.7" height="16" fill="#f8e4e6"/><rect x="655.7" y="738" width="8.7" height="16" fill="#f8e2e4"/><rect x="664.4" y="738" width="8.7" height="16" fill="#f8e0e2"/><rect x="673.1" y="738" width="8.7" height="16" fill="#f7dcdf"/><rect x="681.8" y="738" width="8.7" height="16" fill="#f7d9dc"/><rect x="690.5" y="738" width="8.7" height="16" fill="#f7d6d9"/><rect x="699.2" y="738" width="8.7" height="16" fill="#f6d2d5"/><rect x="707.9" y="738" width="8.7" height="16" fill="#f5ced2"/><rect x="716.6" y="738" width="8.7" height="16" fill="#f5c9cd"/><rect x="725.3" y="738" width="8.7" height="16" fill="#f3c0c4"/><rect x="734" y="738" width="8.7" height="16" fill="#f1b4b9"/><rect x="742.7" y="738" width="8.7" height="16" fill="#ef9ca2"/><rect x="751.4" y="738" width="8.7" height="16" fill="#e8202a"/>
</g>
<g>
<rect x="473" y="757" width="8.7" height="6" fill="#3a57b5"/><rect x="481.7" y="757" width="8.7" height="6" fill="#a29c3e"/><rect x="490.4" y="757" width="8.7" height="6" fill="#b850b0"/><rect x="499.1" y="757" width="8.7" height="6" fill="#3a57b5"/><rect x="507.8" y="757" width="8.7" height="6" fill="#3a57b5"/><rect x="516.5" y="757" width="8.7" height="6" fill="#3a57b5"/><rect x="525.2" y="757" width="8.7" height="6" fill="#b850b0"/><rect x="533.9" y="757" width="8.7" height="6" fill="#b850b0"/><rect x="542.6" y="757" width="8.7" height="6" fill="#b850b0"/><rect x="551.3" y="757" width="8.7" height="6" fill="#b850b0"/><rect x="560" y="757" width="8.7" height="6" fill="#b850b0"/><rect x="568.7" y="757" width="8.7" height="6" fill="#3a57b5"/><rect x="577.4" y="757" width="8.7" height="6" fill="#b850b0"/><rect x="586.1" y="757" width="8.7" height="6" fill="#f09a9a"/><rect x="594.8" y="757" width="8.7" height="6" fill="#3a57b5"/><rect x="603.5" y="757" width="8.7" height="6" fill="#b850b0"/><rect x="612.2" y="757" width="8.7" height="6" fill="#f09a9a"/><rect x="620.9" y="757" width="8.7" height="6" fill="#f09a9a"/><rect x="629.6" y="757" width="8.7" height="6" fill="#f09a9a"/><rect x="638.3" y="757" width="8.7" height="6" fill="#f09a9a"/><rect x="647" y="757" width="8.7" height="6" fill="#b850b0"/><rect x="655.7" y="757" width="8.7" height="6" fill="#a29c3e"/><rect x="664.4" y="757" width="8.7" height="6" fill="#b850b0"/><rect x="673.1" y="757" width="8.7" height="6" fill="#b850b0"/><rect x="681.8" y="757" width="8.7" height="6" fill="#a29c3e"/><rect x="690.5" y="757" width="8.7" height="6" fill="#3a57b5"/><rect x="699.2" y="757" width="8.7" height="6" fill="#b850b0"/><rect x="707.9" y="757" width="8.7" height="6" fill="#3a57b5"/><rect x="716.6" y="757" width="8.7" height="6" fill="#f09a9a"/><rect x="725.3" y="757" width="8.7" height="6" fill="#f09a9a"/><rect x="734" y="757" width="8.7" height="6" fill="#a29c3e"/><rect x="742.7" y="757" width="8.7" height="6" fill="#3a57b5"/><rect x="751.4" y="757" width="8.7" height="6" fill="#b850b0"/>
</g>
<g class="h" text-anchor="end">
<text transform="translate(480,767) rotate(-90)">Vanillic acid</text><text transform="translate(488.7,767) rotate(-90)">1,3,7-Trimethyluric Acid</text><text transform="translate(497.4,767) rotate(-90)">Anthranilic acid</text><text transform="translate(506.1,767) rotate(-90)">N-Acetyl-L-phenylalanine</text><text transform="translate(514.8,767) rotate(-90)">N-Cinnamoylglycine</text><text transform="translate(523.5,767) rotate(-90)">p-Cresol</text><text transform="translate(532.2,767) rotate(-90)">Kynurenic acid</text><text transform="translate(540.9,767) rotate(-90)">4-hydroxyindole</text><text transform="translate(549.6,767) rotate(-90)">N-Acetyl-DL-tryptophan</text><text transform="translate(558.3,767) rotate(-90)">5-Methoxyindole-3-acetic acid</text><text transform="translate(567,767) rotate(-90)">Indole-3-lactic acid</text><text transform="translate(575.7,767) rotate(-90)">Hippuric acid</text><text transform="translate(584.4,767) rotate(-90)">4-formylindole</text><text transform="translate(593.1,767) rotate(-90)">N-Acetyl-L-proline</text><text transform="translate(601.8,767) rotate(-90)">2-Hydroxycinnamic acid</text><text transform="translate(610.5,767) rotate(-90)">3-Indoxylsulfate</text><text transform="translate(619.2,767) rotate(-90)">Ac-Val-OH</text><text transform="translate(627.9,767) rotate(-90)">N-Methyl-2-pyridone-5-carbox.</text><text transform="translate(636.6,767) rotate(-90)">Orotic acid</text><text transform="translate(645.3,767) rotate(-90)">Phenylacetyl-L-glutamine</text><text transform="translate(654,767) rotate(-90)">3-hydroxy-DL-kynurenine</text><text transform="translate(662.7,767) rotate(-90)">7-Methyluric Acid</text><text transform="translate(671.4,767) rotate(-90)">4-cyanoindole</text><text transform="translate(680.1,767) rotate(-90)">3-Methyl-L-histidine</text><text transform="translate(688.8,767) rotate(-90)">Uric acid</text><text transform="translate(697.5,767) rotate(-90)">Phenylalanine</text><text transform="translate(706.2,767) rotate(-90)">3-Methylindole</text><text transform="translate(714.9,767) rotate(-90)">Tyrosine</text><text transform="translate(723.6,767) rotate(-90)">Creatinine</text><text transform="translate(732.3,767) rotate(-90)">Gluconic acid</text><text transform="translate(741,767) rotate(-90)">Allantoin</text><text transform="translate(749.7,767) rotate(-90)">trans-Cinnamic acid</text><text transform="translate(758.4,767) rotate(-90)">3-indolepropionic acid</text>
</g>
</svg>
</body></html>
